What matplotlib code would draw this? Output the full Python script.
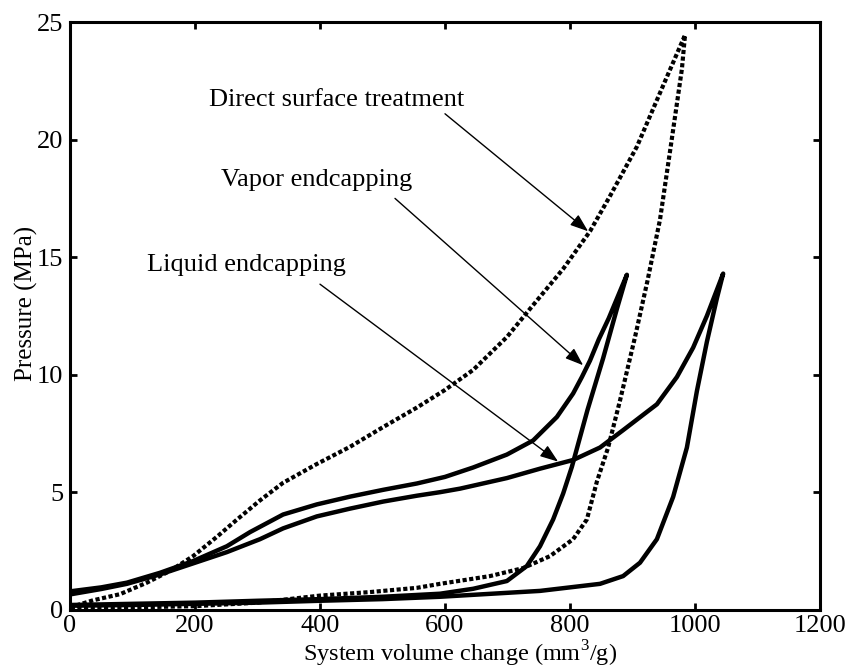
import matplotlib
matplotlib.use('Agg')
import matplotlib.pyplot as plt

plt.rcParams['font.family'] = ['Liberation Serif', 'DejaVu Serif']
plt.rcParams['mathtext.fontset'] = 'custom'
plt.rcParams['mathtext.rm'] = 'Liberation Serif'

# direct surface treatment (dotted loop)
direct_x = [0, 37, 80, 123, 160, 197, 235, 267, 304, 341, 395, 448, 501, 555, 600, 645, 699, 736, 789, 832, 864, 907, 949, 984,
            979, 960, 944, 924, 904, 880, 861, 843, 827, 805, 768, 725, 672, 592, 555, 480, 400, 300, 200, 100, 0]
direct_y = [0.1, 0.4, 0.66, 1.15, 1.65, 2.28, 3.1, 3.83, 4.65, 5.4, 6.2, 6.93, 7.77, 8.6, 9.35, 10.2, 11.6, 12.8, 14.5, 16.1, 17.6, 19.7, 22.3, 24.45,
            23.0, 19.5, 16.6, 14.0, 11.6, 8.9, 6.9, 5.45, 3.84, 3.0, 2.28, 1.77, 1.43, 1.1, 0.93, 0.75, 0.6, 0.3, 0.15, 0.1, 0.08]

# vapor endcapping
vapor_x = [0, 50, 91, 144, 197, 251, 288, 341, 395, 448, 501, 555, 600, 645, 699, 741, 779, 805, 819, 832, 846, 862, 880, 891,
           875, 853, 828, 803, 789, 773, 752, 731, 699, 645, 592, 500, 400, 300, 200, 100, 0]
vapor_y = [0.78, 0.95, 1.15, 1.57, 2.07, 2.7, 3.3, 4.05, 4.48, 4.81, 5.1, 5.37, 5.65, 6.05, 6.6, 7.2, 8.2, 9.2, 9.9, 10.6, 11.5, 12.4, 13.55, 14.25,
           12.8, 10.7, 8.5, 6.08, 4.94, 3.84, 2.7, 1.86, 1.22, 0.89, 0.68, 0.55, 0.45, 0.38, 0.3, 0.25, 0.2]

# liquid endcapping
liquid_x = [0, 50, 91, 144, 197, 251, 304, 341, 395, 448, 501, 555, 592, 624, 699, 752, 805, 848, 885, 939, 971, 997, 1019, 1045,
            1035, 1019, 1003, 987, 965, 939, 912, 885, 848, 752, 592, 500, 400, 300, 200, 100, 0]
liquid_y = [0.65, 0.88, 1.1, 1.5, 1.97, 2.45, 3.0, 3.46, 3.97, 4.3, 4.6, 4.85, 5.0, 5.15, 5.6, 6.0, 6.37, 6.9, 7.64, 8.74, 9.9, 11.15, 12.5, 14.3,
            13.25, 11.4, 9.3, 6.9, 4.8, 3.0, 2.0, 1.43, 1.1, 0.8, 0.55, 0.45, 0.38, 0.3, 0.25, 0.2, 0.17]

fig = plt.figure(figsize=(8.46, 6.70), dpi=100)
ax = fig.add_axes([0.0827, 0.09, 0.8866, 0.877])

ax.plot(direct_x, direct_y, color='black', lw=3, linestyle=(0, (1, 0.6)), dash_capstyle='butt')
ax.plot(vapor_x, vapor_y, color='black', lw=3.2, solid_joinstyle='round')
ax.plot(liquid_x, liquid_y, color='black', lw=3.2, solid_joinstyle='round')

arrow = dict(arrowstyle='-|>,head_length=0.55,head_width=0.2', color='black', lw=1, mutation_scale=20,
             shrinkA=0, shrinkB=0)
ax.annotate('', xy=(829, 16.1), xytext=(600, 21.1), arrowprops=arrow)
ax.annotate('', xy=(821, 10.4), xytext=(520, 17.5), arrowprops=arrow)
ax.annotate('', xy=(781, 6.3), xytext=(400, 13.85), arrowprops=arrow)
ax.text(426, 21.7, 'Direct surface treatment', fontsize=19, ha='center', va='center')
ax.text(395, 18.3, 'Vapor endcapping', fontsize=19, ha='center', va='center')
ax.text(283, 14.65, 'Liquid endcapping', fontsize=19, ha='center', va='center')

ax.set_xlim(0, 1200)
ax.set_ylim(0, 25)
ax.set_xticks(range(0, 1201, 200))
ax.set_yticks(range(0, 26, 5))
ax.tick_params(direction='in', top=True, right=True, length=5, width=2, labelsize=19, pad=5)
ax.tick_params(axis='x', pad=4)
for s in ax.spines.values():
    s.set_linewidth(2.2)

ax.set_xlabel('System volume change (mm$^3$/g)', fontsize=17.5)
ax.set_ylabel('Pressure (MPa)', fontsize=18)
ax.xaxis.set_label_coords(0.52, -0.05)
ax.yaxis.set_label_coords(-0.042, 0.522)

fig.savefig('out.png', dpi=100)
